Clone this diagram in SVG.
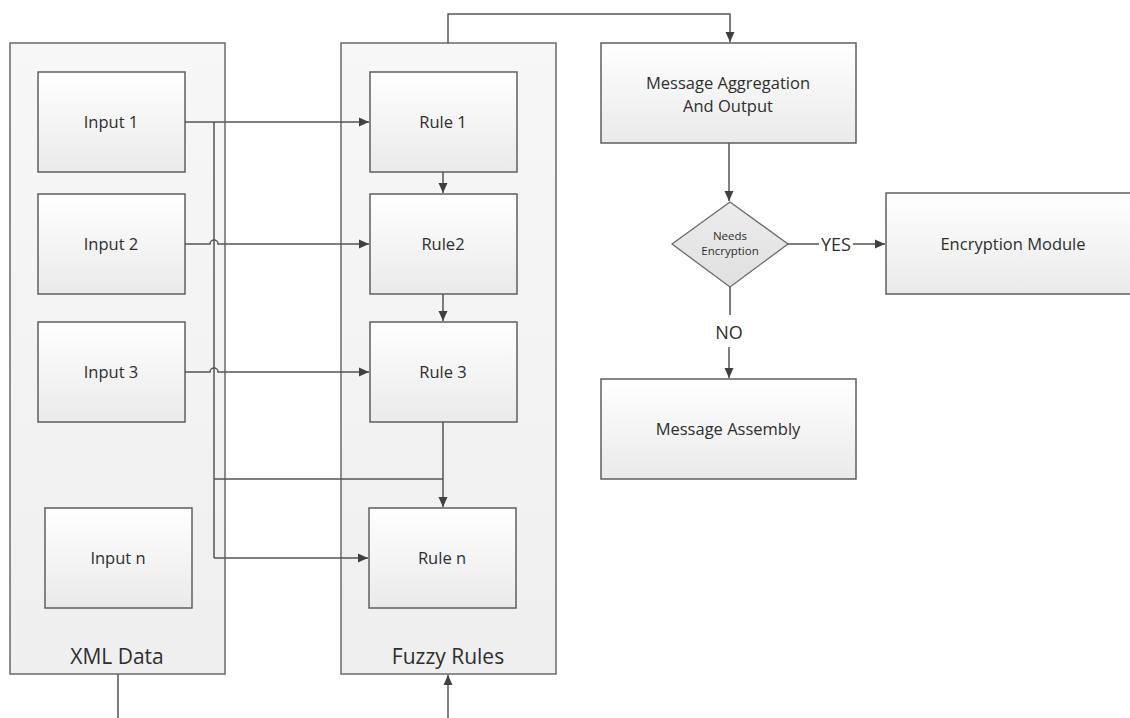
<svg xmlns="http://www.w3.org/2000/svg" width="1130" height="718" viewBox="0 0 1130 718">
<defs>
<linearGradient id="boxg" x1="0" y1="0" x2="0" y2="1">
<stop offset="0" stop-color="#ffffff"/>
<stop offset="1" stop-color="#eaeaea"/>
</linearGradient>
<linearGradient id="contg" x1="0" y1="0" x2="0" y2="1">
<stop offset="0" stop-color="#f7f7f7"/>
<stop offset="1" stop-color="#efefef"/>
</linearGradient>
<linearGradient id="diag" x1="0" y1="0" x2="0" y2="1">
<stop offset="0" stop-color="#ececec"/>
<stop offset="1" stop-color="#e0e0e0"/>
</linearGradient>
<marker id="arr" viewBox="0 0 10 10" refX="10" refY="5" markerWidth="10" markerHeight="10" markerUnits="userSpaceOnUse" orient="auto">
<path d="M0,0.5 L10,5 L0,9.5 z" fill="#404040"/>
</marker>
</defs>
<style>
.cont{fill:url(#contg);stroke:#6a6a6a;stroke-width:1.5}
.box{fill:url(#boxg);stroke:#5f5f5f;stroke-width:1.5}
.dia{fill:url(#diag);stroke:#6a6a6a;stroke-width:1.3}
.t{font-family:"Open Sans","Liberation Sans",sans-serif;fill:#2e2e2e;text-anchor:middle;dominant-baseline:central}
.m{font-size:16.5px}
.big{font-size:21px}
.s{font-size:11.5px}
.lab{font-size:18px}
.c{fill:none;stroke:#555;stroke-width:1.5}
.ca{fill:none;stroke:#555;stroke-width:1.5;marker-end:url(#arr)}
</style>
<rect width="1130" height="718" fill="#ffffff"/>

<g id="xml-data">
<rect class="cont" x="10" y="43" width="215" height="631"/>
<text class="t big" x="117" y="656">XML Data</text>
</g>
<g id="fuzzy-rules">
<rect class="cont" x="341" y="43" width="215" height="631"/>
<text class="t big" x="448" y="656">Fuzzy Rules</text>
</g>

<g id="input1"><rect class="box" x="38" y="72" width="147" height="100"/><text class="t m" x="111" y="121">Input 1</text></g>
<g id="input2"><rect class="box" x="38" y="194" width="147" height="100"/><text class="t m" x="111" y="243">Input 2</text></g>
<g id="input3"><rect class="box" x="38" y="322" width="147" height="100"/><text class="t m" x="111" y="371">Input 3</text></g>
<g id="inputn"><rect class="box" x="45" y="508" width="147" height="100"/><text class="t m" x="118" y="557">Input n</text></g>

<g id="rule1"><rect class="box" x="370" y="72" width="147" height="100"/><text class="t m" x="443" y="121">Rule 1</text></g>
<g id="rule2"><rect class="box" x="370" y="194" width="147" height="100"/><text class="t m" x="443" y="243">Rule2</text></g>
<g id="rule3"><rect class="box" x="370" y="322" width="147" height="100"/><text class="t m" x="443" y="371">Rule 3</text></g>
<g id="rulen"><rect class="box" x="369" y="508" width="147" height="100"/><text class="t m" x="442" y="557">Rule n</text></g>

<g id="msg-agg"><rect class="box" x="601" y="43" width="255" height="100"/>
<text class="t m" x="728" y="82">Message Aggregation</text>
<text class="t m" x="728" y="105">And Output</text></g>

<g id="needs-enc"><polygon class="dia" points="730,202 788,244 730,287 672,244"/>
<text class="t s" x="730" y="235">Needs</text>
<text class="t s" x="730" y="250">Encryption</text></g>

<g id="enc-module"><rect class="box" x="886" y="193" width="260" height="101"/>
<text class="t m" x="1013" y="243">Encryption Module</text></g>

<g id="msg-assembly"><rect class="box" x="601" y="379" width="255" height="100"/>
<text class="t m" x="728" y="428">Message Assembly</text></g>

<g id="connectors">
<path class="ca" d="M185,122 H369"/>
<path class="c" d="M214,122 V558"/>
<path class="ca" d="M214,558 H368"/>
<path class="ca" d="M185,244 H210 A4,4 0 0 1 218,244 H369"/>
<path class="ca" d="M185,372 H210 A4,4 0 0 1 218,372 H369"/>
<path class="c" d="M214,479 H443"/>
<path class="ca" d="M443,422 V507"/>
<path class="ca" d="M443,172 V193"/>
<path class="ca" d="M443,294 V321"/>
<path class="ca" d="M448,43 V14 H730 V42"/>
<path class="ca" d="M729,143 V201"/>
<path class="c" d="M788,244 H819"/>
<text class="t lab" x="836" y="244">YES</text>
<path class="ca" d="M853,244 H885"/>
<path class="c" d="M730,287 V315"/>
<text class="t lab" x="729" y="332">NO</text>
<path class="ca" d="M729,347 V378"/>
<path class="c" d="M118,674 V718"/>
<path class="ca" d="M448,718 V675"/>
</g>
</svg>
